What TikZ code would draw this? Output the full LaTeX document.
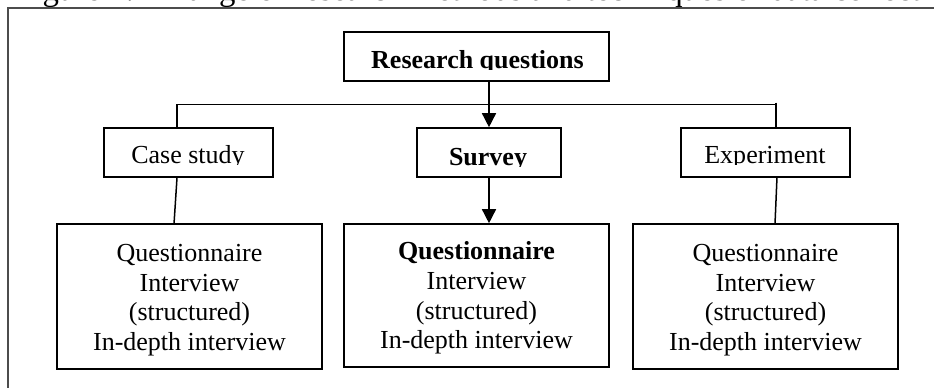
\documentclass[tikz,border=0pt]{standalone}
\usepackage{fontspec}
\setmainfont{Liberation Serif}
\usetikzlibrary{arrows.meta,calc}

\tikzset{
  box/.style={draw=black, line width=1.6pt, minimum width=#1, inner sep=0pt},
  tall/.style={minimum height=49pt},
  block/.style={minimum height=145pt},
  label/.style={font=\fontsize{26}{30}\selectfont, inner sep=0pt, anchor=base},
  lines/.style={font=\fontsize{26}{29.6}\selectfont, inner sep=0pt, align=center},
  link/.style={line width=1.5pt},
  arrowlink/.style={line width=1.5pt, -{Triangle[length=14pt,width=14pt]}},
  frame/.style={draw=black!70, line width=1.3pt},
}

\begin{document}
\begin{tikzpicture}[x=1pt, y=-1pt]
  \useasboundingbox (0,0) rectangle (934,388);
  \clip (0,0) rectangle (934,388);

  % caption line running off the top edge
  \node[font=\fontsize{32.8}{36}\selectfont, inner sep=0pt, anchor=base west]
    (caption) at (15,0.8) {Figure 4: A range of research methods and techniques of data collection};

  % outer frame (left and top edges)
  \draw[frame] (8,388) -- (8,8) -- (934,8);

  % boxes
  \node[box=265pt, tall] (rq)     at (476.5,56.5) {};
  \node[box=169pt, tall] (case)   at (188.5,152.5) {};
  \node[box=144pt, tall] (survey) at (489,152.5) {};
  \node[box=169pt, tall] (exp)    at (765.5,152.5) {};
  \node[box=265pt, block] (qleft)  at (189.5,296.5) {};
  \node[box=265pt, minimum height=143pt] (qmid) at (476.5,295.5) {};
  \node[box=265pt, block] (qright) at (765.5,296.5) {};

  % single-line labels, cut just below the baseline
  \begin{scope}
    \clip (rq.north west) rectangle (rq.east |- 0,69);
    \node[label, font=\fontsize{26}{30}\selectfont\bfseries] (rqt) at (477.5,68) {Research questions};
  \end{scope}
  \begin{scope}
    \clip (case.north west) rectangle (case.east |- 0,164);
    \node[label] (caset) at (188,163) {Case study};
  \end{scope}
  \begin{scope}
    \clip (survey.north west) rectangle (survey.east |- 0,166);
    \node[label, font=\fontsize{26}{30}\selectfont\bfseries] (surveyt) at (488,165) {Survey};
  \end{scope}
  \begin{scope}
    \clip (exp.north west) rectangle (exp.east |- 0,164);
    \node[label] (expt) at (765,163) {Experiment};
  \end{scope}

  % technique lists
  \node[lines] (qleftt)  at (189.5,300) {Questionnaire\\Interview\\(structured)\\In-depth interview};
  \node[lines] (qmidt)   at (476.5,298) {\textbf{Questionnaire}\\Interview\\(structured)\\In-depth interview};
  \node[lines] (qrightt) at (765.5,300) {Questionnaire\\Interview\\(structured)\\In-depth interview};

  % connectors
  \coordinate (hl) at (177,104.5);
  \coordinate (hr) at (776,104.5);
  \coordinate (cl) at (174,224);
  \coordinate (cr) at (775,224);
  \draw[link] (hl |- case.north) -- (hl) -- (hr);
  \draw[link] (776,102.5) coordinate (tick) -- (hr |- exp.north);
  \draw[link] (hl |- case.south) -- (cl);
  \draw[link] (777,177) coordinate (eb) -- (cr);
  \draw[arrowlink] (survey.north |- rq.south) -- (survey.north);
  \draw[arrowlink] (survey.south) -- (survey.south |- qmid.north);
\end{tikzpicture}
\end{document}
